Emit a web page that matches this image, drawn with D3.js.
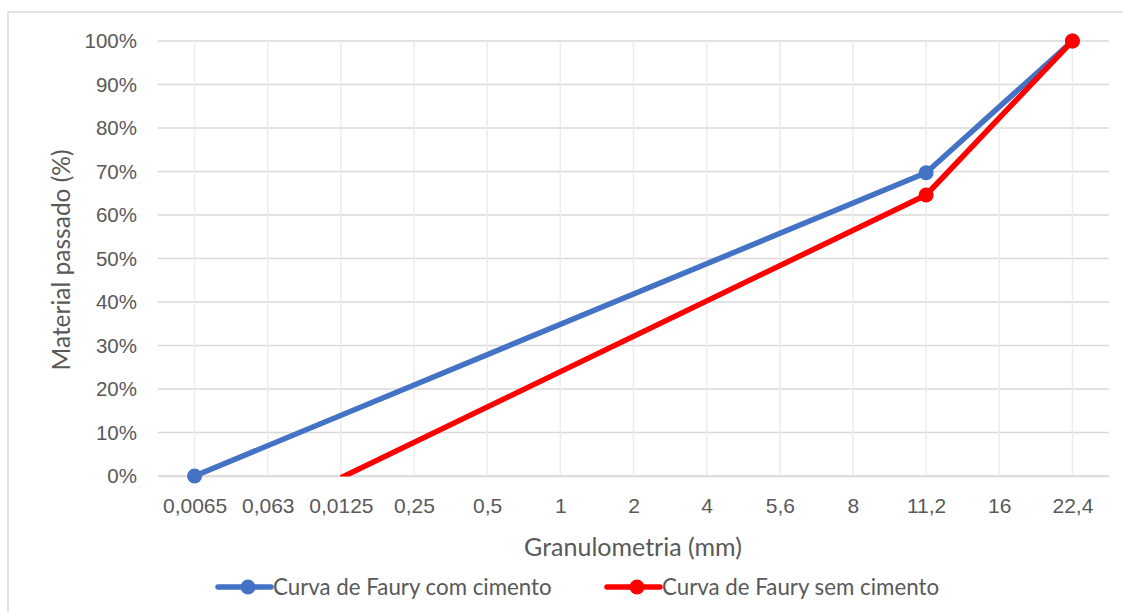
<!DOCTYPE html>
<html><head><meta charset="utf-8">
<script src="https://cdn.jsdelivr.net/npm/d3@7/dist/d3.min.js"></script>
<style>body{margin:0;background:#fff}svg{display:block;font-family:Lato,"Open Sans",sans-serif}</style>
</head><body><svg id="c" width="1123" height="612"></svg>
<script>
const categories = ["0,0065","0,063","0,0125","0,25","0,5","1","2","4","5,6","8","11,2","16","22,4"];
const seriesNames = ["Curva de Faury com cimento","Curva de Faury sem cimento"];
const comCimento = [[ "0,0065", 0 ], [ "11,2", 69.7 ], [ "22,4", 100 ]];
const semCimento = [[ "0,0125", -0.4 ], [ "11,2", 64.6 ], [ "22,4", 100 ]];
const yTicks = [0,10,20,30,40,50,60,70,80,90,100];
const colors = ["#4472C4","#FF0000"];

const svg = d3.select("#c");
svg.append("rect").attr("x",8).attr("y",12).attr("width",1130).attr("height",620)
  .attr("fill","#fff").attr("stroke","#d9d9d9").attr("stroke-width",1.5);

const L=158,R=1109,T=41,B=476;
const x = d3.scalePoint().domain(categories).range([L,R]).padding(0.5);
const y = d3.scaleLinear().domain([0,100]).range([B,T]);

const g = svg.append("g");
g.selectAll(".hg").data(yTicks).enter().append("line")
  .attr("x1",L).attr("x2",R).attr("y1",d=>y(d)).attr("y2",d=>y(d))
  .attr("stroke","#d9d9d9").attr("stroke-width",1.5);
g.selectAll(".vg").data(categories).enter().append("line")
  .attr("x1",d=>x(d)).attr("x2",d=>x(d)).attr("y1",T).attr("y2",B)
  .attr("stroke","#ececec").attr("stroke-width",1.5);

const ya = svg.append("g").attr("transform",`translate(${L},0)`)
  .call(d3.axisLeft(y).tickValues(yTicks).tickFormat(d=>d+"%").tickSize(0).tickPadding(21));
ya.select(".domain").remove();
ya.selectAll("text").attr("fill","#595959").style("font-size","20.5px");

const xa = svg.append("g").attr("transform",`translate(0,${B})`)
  .call(d3.axisBottom(x).tickSize(0).tickPadding(22));
xa.select(".domain").attr("stroke","#d9d9d9").attr("stroke-width",1.5);
xa.selectAll("text").attr("fill","#595959").style("font-size","21px");

svg.append("clipPath").attr("id","pc").append("rect").attr("x",L).attr("y",T-15).attr("width",R-L).attr("height",B-T+15+0.5);

const line = d3.line().x(d=>x(d[0])).y(d=>y(d[1]));
const series=[comCimento,semCimento];
series.forEach((s,i)=>{
  const sg = svg.append("g");
  sg.append("path").datum(s).attr("d",line).attr("fill","none").attr("clip-path","url(#pc)")
    .attr("stroke",colors[i]).attr("stroke-width",5.5).attr("stroke-linejoin","round");
  sg.selectAll("circle").data(s.filter(d=>d[1]>=0)).enter().append("circle")
    .attr("cx",d=>x(d[0])).attr("cy",d=>y(d[1])).attr("r",7.5).attr("fill",colors[i]);
});

svg.append("text").attr("x",633).attr("y",556).attr("text-anchor","middle")
  .attr("fill","#595959").style("font-size","25px").text("Granulometria (mm)");
svg.append("text").attr("transform","translate(70,260) rotate(-90)").attr("text-anchor","middle")
  .attr("fill","#595959").style("font-size","24.5px").text("Material passado (%)");

const lx=[218,607];
seriesNames.forEach((n,i)=>{
  const lg = svg.append("g").attr("transform",`translate(${lx[i]},587)`);
  lg.append("line").attr("x1",0).attr("x2",53).attr("stroke",colors[i]).attr("stroke-width",5.5).attr("stroke-linecap","round");
  lg.append("circle").attr("cx",30).attr("r",7.5).attr("fill",colors[i]);
  lg.append("text").attr("x",55).attr("y",8).attr("fill","#595959").style("font-size","22.3px").text(n);
});
</script></body></html>
